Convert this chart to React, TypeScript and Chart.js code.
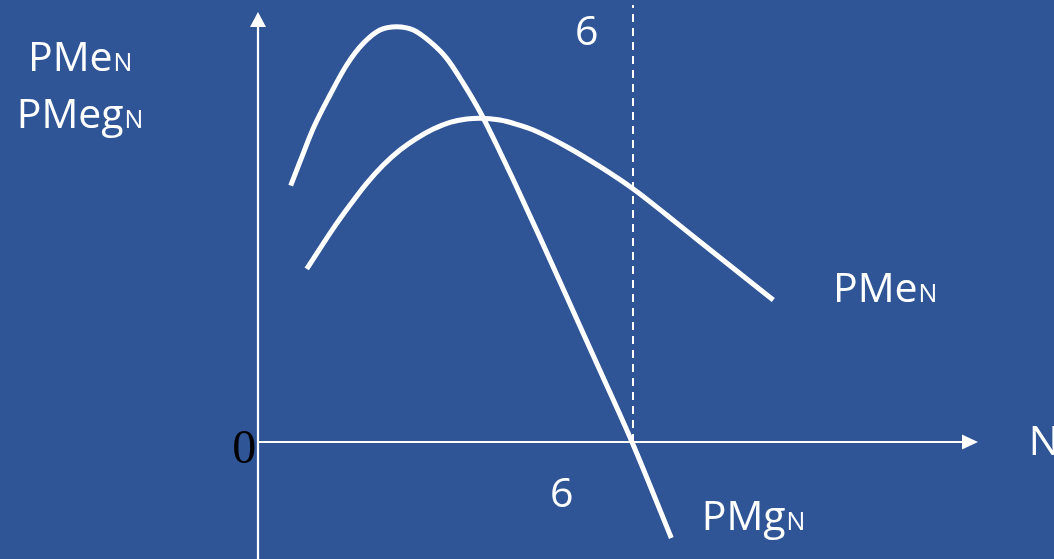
import React, { useEffect, useRef } from "react";
import { Chart, registerables } from "chart.js";

Chart.register(...registerables);

// Labour (N) on the horizontal axis, product per worker on the vertical axis.
// Marginal product of labour (PMg)
const pmgN = [0.523, 0.672, 0.885, 1.152, 1.419, 1.685, 1.952, 2.219, 2.485, 2.752, 3.019, 3.285, 3.552, 3.819, 4.085, 4.512, 4.992, 5.472, 5.984, 6.613];
const pmgY = [6.146, 6.722, 7.523, 8.321, 9.041, 9.561, 9.88, 9.959, 9.88, 9.6, 9.201, 8.602, 7.921, 7.122, 6.29, 4.902, 3.309, 1.714, 0.0, -2.302];

// Average product of labour (PMe)
const pmeN = [0.779, 1.205, 1.472, 1.739, 2.005, 2.272, 2.539, 2.805, 3.072, 3.339, 3.552, 3.872, 4.139, 4.405, 4.939, 5.472, 6.005, 6.539, 7.072, 7.605, 8.245];
const pmeY = [4.149, 5.125, 5.683, 6.204, 6.643, 7.002, 7.283, 7.506, 7.667, 7.746, 7.763, 7.722, 7.619, 7.482, 7.082, 6.602, 6.067, 5.444, 4.803, 4.165, 3.405];

// Optimal labour level marked by the dashed guide
const optimalN = 6;
const guideTop = 10.48;

// Visible range of both axes
const xMin = -4.128;
const xMax = 12.736;
const yMin = -2.806;
const yMax = 10.6;
const xArrowEnd = 11.52;
const yArrowEnd = 10.31;

const BG = "#2F5597";
const WHITE = "#FFFFFF";
const SANS = "'Open Sans', 'Noto Sans', sans-serif";

type Label = { main: string; sub: string; n: number; y: number };
const curveLabels: Label[] = [
  { main: "PMe", sub: "N", n: -3.68, y: 8.9 },
  { main: "PMeg", sub: "N", n: -3.86, y: 7.53 },
  { main: "PMe", sub: "N", n: 9.2, y: 3.36 },
  { main: "PMg", sub: "N", n: 7.1, y: -2.11 },
];

const toPoints = (xs: number[], ys: number[]) => xs.map((x, i) => ({ x, y: ys[i] }));

const axesPlugin = {
  id: "economicAxes",
  afterDatasetsDraw(chart: any) {
    const { ctx, scales } = chart;
    const sx = scales.x;
    const sy = scales.y;
    const x0 = sx.getPixelForValue(0);
    const y0 = sy.getPixelForValue(0);
    ctx.save();
    ctx.strokeStyle = WHITE;
    ctx.fillStyle = WHITE;
    ctx.lineWidth = 2.2;

    // vertical axis with arrow
    const yTip = sy.getPixelForValue(yArrowEnd);
    ctx.beginPath();
    ctx.moveTo(x0, sy.getPixelForValue(yMin));
    ctx.lineTo(x0, yTip + 14);
    ctx.stroke();
    ctx.beginPath();
    ctx.moveTo(x0, yTip);
    ctx.lineTo(x0 - 8, yTip + 15);
    ctx.lineTo(x0 + 8, yTip + 15);
    ctx.closePath();
    ctx.fill();

    // horizontal axis with arrow
    const xTip = sx.getPixelForValue(xArrowEnd);
    ctx.beginPath();
    ctx.moveTo(x0, y0);
    ctx.lineTo(xTip - 14, y0);
    ctx.stroke();
    ctx.beginPath();
    ctx.moveTo(xTip, y0);
    ctx.lineTo(xTip - 16, y0 - 7.5);
    ctx.lineTo(xTip - 16, y0 + 7.5);
    ctx.closePath();
    ctx.fill();

    // curve names with subscript N
    ctx.textBaseline = "alphabetic";
    ctx.textAlign = "left";
    for (const l of curveLabels) {
      const px = sx.getPixelForValue(l.n);
      const py = sy.getPixelForValue(l.y);
      ctx.font = `41px ${SANS}`;
      ctx.fillText(l.main, px, py);
      const w = ctx.measureText(l.main).width;
      ctx.font = `25px ${SANS}`;
      ctx.fillText(l.sub, px + w + 1, py);
    }

    // axis name and the value 6 on both ends of the guide
    ctx.font = `41px ${SANS}`;
    ctx.fillText("N", sx.getPixelForValue(12.33), sy.getPixelForValue(-0.31));
    ctx.fillText(String(optimalN), sx.getPixelForValue(5.07), sy.getPixelForValue(9.52));
    ctx.fillText(String(optimalN), sx.getPixelForValue(4.67), sy.getPixelForValue(-1.56));

    // origin
    ctx.fillStyle = "#000000";
    ctx.font = "48px 'Liberation Serif', 'DejaVu Serif', serif";
    ctx.textAlign = "right";
    ctx.fillText("0", sx.getPixelForValue(-0.03), sy.getPixelForValue(-0.5));
    ctx.restore();
  },
};

export default function App() {
  const canvasRef = useRef<HTMLCanvasElement | null>(null);

  useEffect(() => {
    const canvas = canvasRef.current;
    if (!canvas) return;
    const chart = new Chart(canvas, {
      type: "line",
      data: {
        datasets: [
          {
            label: "PMg",
            data: toPoints(pmgN, pmgY),
            borderColor: WHITE,
            borderWidth: 5,
            pointRadius: 0,
            cubicInterpolationMode: "monotone",
            fill: false,
          },
          {
            label: "PMe",
            data: toPoints(pmeN, pmeY),
            borderColor: WHITE,
            borderWidth: 5,
            pointRadius: 0,
            cubicInterpolationMode: "monotone",
            fill: false,
          },
          {
            label: "N*",
            data: [
              { x: optimalN, y: 0 },
              { x: optimalN, y: guideTop },
            ],
            borderColor: WHITE,
            borderWidth: 2,
            borderDash: [8, 6],
            pointRadius: 0,
            fill: false,
          },
        ],
      },
      options: {
        responsive: false,
        animation: false,
        layout: { padding: 0 },
        plugins: { legend: { display: false }, tooltip: { enabled: false } },
        scales: {
          x: { type: "linear", min: xMin, max: xMax, display: false },
          y: { type: "linear", min: yMin, max: yMax, display: false },
        },
      },
      plugins: [axesPlugin],
    });
    return () => chart.destroy();
  }, []);

  return (
    <div
      style={{
        position: "fixed",
        left: 0,
        top: 0,
        width: 1054,
        height: 559,
        background: BG,
      }}
    >
      <canvas ref={canvasRef} width={1054} height={559} style={{ display: "block" }} />
    </div>
  );
}
